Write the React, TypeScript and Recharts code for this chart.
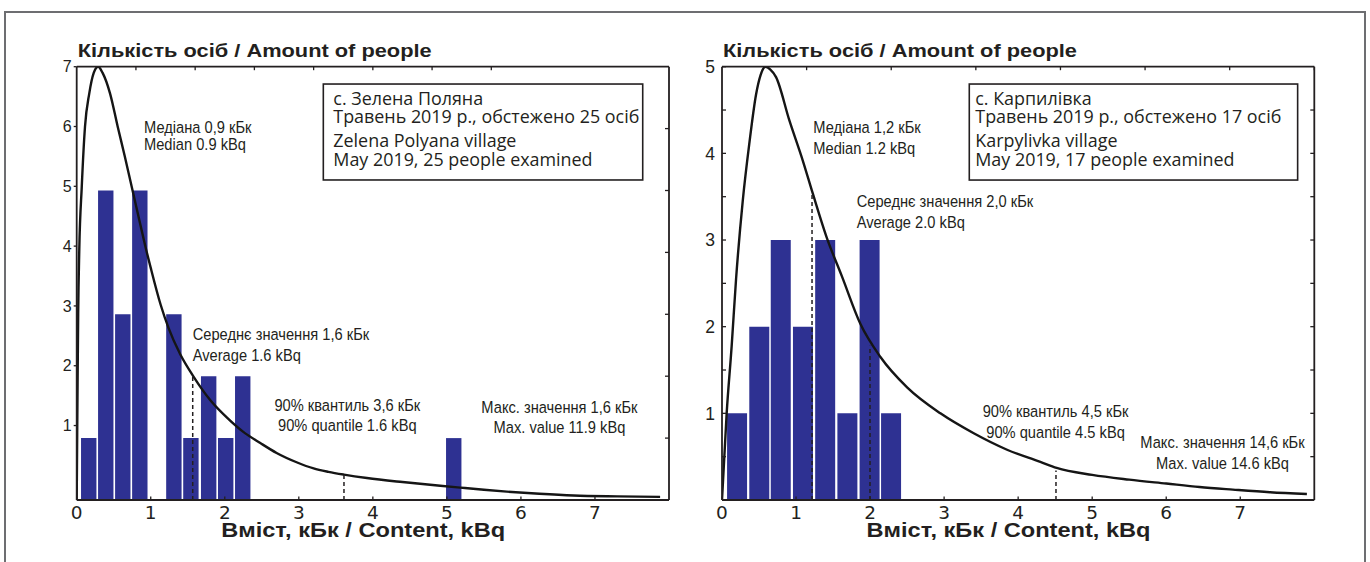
import React from 'react';
import {
  ComposedChart, Bar, Line, XAxis, YAxis, ReferenceLine, ReferenceDot, ReferenceArea, Label,
} from 'recharts';

const INK = '#231f20';
const BAR = '#2e3192';
const SANS = "'Liberation Sans', Arial, sans-serif";
const WIDE = "'DejaVu Sans', sans-serif";
const BOXFONT = "'Open Sans', 'Noto Sans', sans-serif";

// ---------- shared axis data ----------
const xTickLabels = [0, 1, 2, 3, 4, 5, 6, 7];
const frameTicks = [1, 2, 3, 4, 5, 6, 7];
const yTitle = 'Кількість осіб / Amount of people';
const xTitle = 'Вміст, кБк / Content, kBq';

// ---------- Zelena Polyana ----------
const zpBinCenters = [0.16, 0.39, 0.62, 0.85, 1.08, 1.31, 1.54, 1.78, 2.01, 2.24, 5.09];
const zpCounts = [1, 5, 3, 5, 0, 3, 1, 2, 1, 2, 1];
const zpCurveX = [0, 0.005, 0.012, 0.02, 0.035, 0.068, 0.112, 0.17, 0.23, 0.29, 0.35, 0.45, 0.554, 0.65, 0.743, 0.85, 0.923, 1.0, 1.135, 1.24, 1.4, 1.58, 1.8, 2.03, 2.25, 2.48, 2.7, 2.97, 3.2, 3.4, 3.61, 3.92, 4.4, 4.91, 5.18, 5.5, 5.81, 6.25, 6.71, 7.3, 7.88];
const zpCurveY = [0, 0.8, 1.9, 3.0, 4.05, 5.05, 6.03, 6.57, 6.9, 7.0, 6.9, 6.57, 6.03, 5.55, 5.06, 4.5, 4.12, 3.75, 3.15, 2.78, 2.35, 1.99, 1.62, 1.33, 1.1, 0.92, 0.76, 0.61, 0.51, 0.455, 0.41, 0.355, 0.29, 0.23, 0.2, 0.165, 0.135, 0.1, 0.072, 0.058, 0.05];
const zpLabelTicks = [1, 2, 3, 4, 5, 6, 7];
const zpRightTicks = [1, 2, 3, 4, 5, 6];
const zpMarkers = [
  { x: 1.567, top: 1.99 },
  { x: 3.61, top: 0.415 },
];
const zpNotes = [
  { x: 0.909, y: 5.924, anchor: 'start', gap: 16.7, lines: ['Медіана 0,9 кБк', 'Median 0.9 kBq'] },
  { x: 1.567, y: 2.585, anchor: 'start', gap: 21, lines: ['Середнє значення 1,6 кБк', 'Average 1.6 kBq'] },
  { x: 3.655, y: 1.443, anchor: 'middle', gap: 20, lines: ['90% квантиль 3,6 кБк', '90% quantile 1.6 kBq'] },
  { x: 6.52, y: 1.41, anchor: 'middle', gap: 20.6, lines: ['Макс. значення 1,6 кБк', 'Max. value 11.9 kBq'] },
];
const zpBoxLines = ['с. Зелена Поляна', 'Травень 2019 р., обстежено 25 осіб', 'Zelena Polyana village', 'May 2019, 25 people examined'];

// ---------- Karpylivka ----------
const kpBinCenters = [0.2, 0.5, 0.79, 1.09, 1.39, 1.69, 1.99, 2.28];
const kpCounts = [1, 2, 3, 2, 3, 1, 3, 1];
const kpCurveX = [0, 0.063, 0.13, 0.19, 0.28, 0.37, 0.46, 0.52, 0.585, 0.65, 0.73, 0.91, 1.09, 1.225, 1.41, 1.62, 1.87, 2.14, 2.5, 2.95, 3.4, 3.85, 4.3, 4.52, 5.0, 5.5, 6.0, 6.45, 6.9, 7.4, 7.9];
const kpCurveY = [0, 1.0, 1.77, 2.55, 3.45, 4.12, 4.68, 4.9, 5.0, 4.97, 4.88, 4.38, 3.92, 3.54, 3.04, 2.58, 2.03, 1.65, 1.3, 1.0, 0.77, 0.58, 0.44, 0.37, 0.29, 0.235, 0.19, 0.15, 0.12, 0.09, 0.07];
const kpLabelTicks = [0.5, 1, 1.5, 2, 2.5, 3, 3.5, 4, 4.5, 5];
const kpRightTicks = [0.5, 1, 1.5, 2, 2.5, 3, 3.5, 4, 4.5];
const kpMarkers = [
  { x: 1.216, top: 3.52 },
  { x: 1.999, top: 1.78 },
  { x: 4.511, top: 0.34 },
];
const kpNotes = [
  { x: 1.233, y: 4.231, anchor: 'start', gap: 20.7, lines: ['Медіана 1,2 кБк', 'Median 1.2 kBq'] },
  { x: 1.819, y: 3.384, anchor: 'start', gap: 21.6, lines: ['Середнє значення 2,0 кБк', 'Average 2.0 kBq'] },
  { x: 4.505, y: 0.961, anchor: 'middle', gap: 21.6, lines: ['90% квантиль 4,5 кБк', '90% quantile 4.5 kBq'] },
  { x: 6.76, y: 0.597, anchor: 'middle', gap: 21, lines: ['Макс. значення 14,6 кБк', 'Max. value 14.6 kBq'] },
];
const kpBoxLines = ['с. Карпилівка', 'Травень 2019 р., обстежено 17 осіб', 'Karpylivka village', 'May 2019, 17 people examined'];

const NoTick = () => <g />;

const makeXTick = () => (p: any) => (
  <text x={p.x} y={p.y} dy="0.71em" textAnchor="middle" fontFamily={WIDE} fontSize={18.5} fill={INK}>
    {p.payload.value}
  </text>
);

const makeYTick = (fontSize: number, integerOnly: boolean) => (p: any) => {
  const v = p.payload.value;
  if (integerOnly && !Number.isInteger(v)) return <g />;
  return (
    <text x={p.x} y={p.y} dy="0.36em" textAnchor="end" fontFamily={SANS} fontSize={fontSize} fill={INK}>
      {v}
    </text>
  );
};

const noteShape = (lines: string[], anchor: string, gap: number) => (p: any) => (
  <g transform={`translate(${p.cx},${p.cy}) scale(0.9,1)`}>
    <text textAnchor={anchor as any} fontFamily={SANS} fontSize={16.3} fill={INK}>
      {lines.map((l, i) => (
        <tspan key={i} x={0} y={i * gap}>{l}</tspan>
      ))}
    </text>
  </g>
);

const boxShape = (lines: string[], padX: number) => (p: any) => {
  const offs = [21, 39.3, 63.3, 82];
  return (
    <g>
      <rect x={p.x} y={p.y} width={p.width} height={p.height} fill="#fff" stroke={INK} strokeWidth={1.6} />
      <text fontFamily={BOXFONT} fontSize={17.9} fill={INK}>
        {lines.map((l, i) => (
          <tspan key={i} x={p.x + padX} y={p.y + offs[i]}>{l}</tspan>
        ))}
      </text>
    </g>
  );
};

type PanelProps = {
  width: number;
  margin: { top: number; left: number; right: number; bottom: number };
  bins: number[];
  counts: number[];
  curveX: number[];
  curveY: number[];
  yMax: number;
  labelDomain: [number, number];
  labelTicks: number[];
  labelTickSize: number;
  labelTickMargin: number;
  labelFont: number;
  integerOnly: boolean;
  yAxisWidth: number;
  rightTicks: number[];
  barSize: number;
  markers: { x: number; top: number }[];
  notes: { x: number; y: number; anchor: string; gap: number; lines: string[] }[];
  box: { x1: number; x2: number; y1: number; y2: number; padX: number };
  boxLines: string[];
};

function Panel(props: PanelProps) {
  const bars = props.bins.map((x, i) => ({ x, count: props.counts[i] }));
  const curve = props.curveX.map((x, i) => ({ x, y: props.curveY[i] }));
  const axisLine = { stroke: INK, strokeWidth: 1.8 };
  const tickLine = { stroke: INK, strokeWidth: 1.3 };
  return (
    <ComposedChart width={props.width} height={562} data={bars} margin={props.margin}>
      <XAxis
        xAxisId="main" type="number" dataKey="x" domain={[0, 8]} allowDataOverflow
        ticks={xTickLabels} interval={0} height={45}
        axisLine={axisLine} tickLine={tickLine} tickSize={-3.5} tickMargin={9}
        tick={makeXTick()}
      >
        <Label
          content={(p: any) => (
            <text x={p.viewBox.x + 144.5} y={p.viewBox.y + 37.3} fontFamily={SANS} fontWeight="bold"
              fontSize={20} fill={INK} textLength={284} lengthAdjust="spacingAndGlyphs">
              {xTitle}
            </text>
          )}
        />
      </XAxis>
      <XAxis xAxisId="bars" type="number" dataKey="x" domain={[0, 8]} allowDataOverflow hide height={0} />
      <XAxis
        xAxisId="top" orientation="top" type="number" domain={[0, 8]} allowDataOverflow
        ticks={frameTicks} interval={0} height={1}
        axisLine={axisLine} tickLine={tickLine} tickSize={-3.5} tick={NoTick}
      />
      <YAxis
        yAxisId="lbl" type="number" domain={props.labelDomain} allowDataOverflow
        ticks={props.labelTicks} interval={0} width={props.yAxisWidth}
        axisLine={axisLine} tickLine={tickLine} tickSize={props.labelTickSize} tickMargin={props.labelTickMargin}
        tick={makeYTick(props.labelFont, props.integerOnly)}
      >
        <Label
          content={(p: any) => (
            <text x={p.viewBox.x + p.viewBox.width + 1} y={p.viewBox.y - 9.4} fontFamily={SANS} fontWeight="bold"
              fontSize={18} fill={INK} textLength={354} lengthAdjust="spacingAndGlyphs">
              {yTitle}
            </text>
          )}
        />
      </YAxis>
      <YAxis
        yAxisId="rt" orientation="right" type="number" domain={[0, props.yMax]} allowDataOverflow
        ticks={props.rightTicks} interval={0} width={1}
        axisLine={axisLine} tickLine={tickLine} tickSize={-4} tick={NoTick}
      />
      <YAxis yAxisId="val" type="number" domain={[0, props.yMax]} allowDataOverflow hide width={0} />
      <ReferenceArea
        xAxisId="main" yAxisId="val"
        x1={props.box.x1} x2={props.box.x2} y1={props.box.y1} y2={props.box.y2}
        shape={boxShape(props.boxLines, props.box.padX)}
      />
      <Bar xAxisId="bars" yAxisId="val" dataKey="count" fill={BAR} barSize={props.barSize} isAnimationActive={false} />
      <Line
        xAxisId="main" yAxisId="val" data={curve} dataKey="y" type="monotone" dot={false} activeDot={false}
        stroke="#151515" strokeWidth={2.4} isAnimationActive={false}
      />
      {props.markers.map((m, i) => (
        <ReferenceLine
          key={'m' + i} xAxisId="main" yAxisId="val"
          segment={[{ x: m.x, y: 0 }, { x: m.x, y: m.top }]}
          stroke={INK} strokeWidth={1.5} strokeDasharray="4 3"
        />
      ))}
      {props.notes.map((n, i) => (
        <ReferenceDot
          key={'n' + i} xAxisId="main" yAxisId="val" x={n.x} y={n.y} r={0}
          shape={noteShape(n.lines, n.anchor, n.gap)}
        />
      ))}
    </ComposedChart>
  );
}

export default function App() {
  return (
    <div style={{ position: 'absolute', left: 0, top: 0, width: 1370, height: 562, overflow: 'hidden', background: '#fff' }}>
      <div style={{ position: 'absolute', left: 4, top: 10.7, width: 1362.3, height: 700, border: '2px solid #6d6e71', boxSizing: 'border-box' }} />
      <div style={{ position: 'absolute', left: 0, top: 0 }}>
        <Panel
          width={690}
          margin={{ top: 65.7, left: 36.7, right: 20, bottom: 17 }}
          bins={zpBinCenters} counts={zpCounts} curveX={zpCurveX} curveY={zpCurveY}
          yMax={7} labelDomain={[-0.245, 7]} labelTicks={zpLabelTicks}
          labelTickSize={3} labelTickMargin={2} labelFont={16} integerOnly={false} yAxisWidth={40}
          rightTicks={zpRightTicks} barSize={15.4}
          markers={zpMarkers} notes={zpNotes}
          box={{ x1: 3.331, x2: 7.645, y1: 5.17, y2: 6.72, padX: 10 }}
          boxLines={zpBoxLines}
        />
      </div>
      <div style={{ position: 'absolute', left: 690, top: 0 }}>
        <Panel
          width={680}
          margin={{ top: 65.7, left: 2, right: 54.7, bottom: 17 }}
          bins={kpBinCenters} counts={kpCounts} curveX={kpCurveX} curveY={kpCurveY}
          yMax={5} labelDomain={[0, 5]} labelTicks={kpLabelTicks}
          labelTickSize={-4} labelTickMargin={11} labelFont={17.5} integerOnly={true} yAxisWidth={30}
          rightTicks={kpRightTicks} barSize={20}
          markers={kpMarkers} notes={kpNotes}
          box={{ x1: 3.34, x2: 7.775, y1: 3.692, y2: 4.8, padX: 6 }}
          boxLines={kpBoxLines}
        />
      </div>
    </div>
  );
}
